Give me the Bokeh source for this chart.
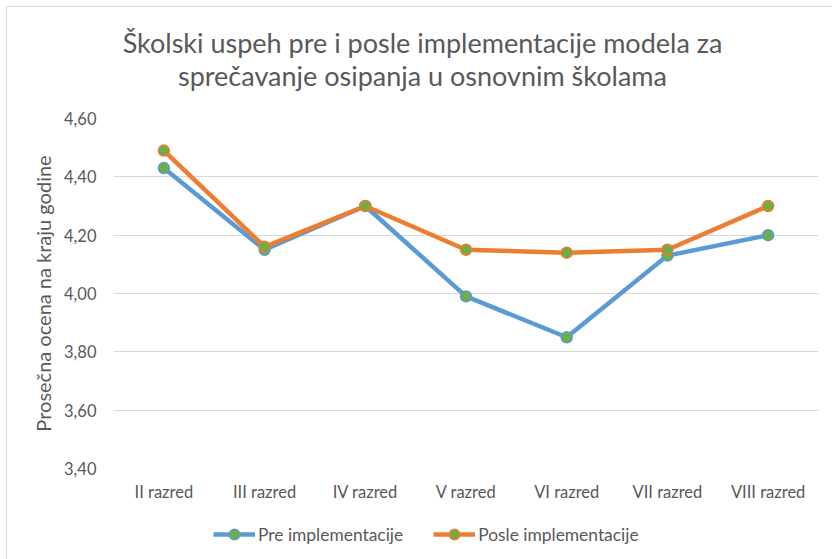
from bokeh.plotting import figure
from bokeh.layouts import column
from bokeh.models import (Div, Legend, LegendItem, FixedTicker, CustomJSTickFormatter,
                          Range1d, InlineStyleSheet)
from bokeh.embed import file_html
from bokeh.resources import INLINE

categories = ["II razred", "III razred", "IV razred", "V razred", "VI razred", "VII razred", "VIII razred"]
pre = [4.43, 4.15, 4.30, 3.99, 3.85, 4.13, 4.20]
posle = [4.49, 4.16, 4.30, 4.15, 4.14, 4.15, 4.30]
y_ticks = [3.40, 3.60, 3.80, 4.00, 4.20, 4.40, 4.60]
series_names = ["Pre implementacije", "Posle implementacije"]
title_lines = ["Školski uspeh pre i posle implementacije modela za",
               "sprečavanje osipanja u osnovnim školama"]

FONT = "Lato"
TXT = "#595959"
BLUE = "#5B9BD5"
ORANGE = "#ED7D31"
GREEN = "#70AD47"

# title block
title_html = ('<div style="width:845px;text-align:center;padding-top:26px;'
              'font-family:Lato;font-size:27px;line-height:33px;color:%s;white-space:nowrap;">'
              '%s<br>%s</div>') % (TXT, title_lines[0], title_lines[1])
title_div = Div(text=title_html, width=832, height=95, margin=0,
                styles={"background-color": "white"})

p = figure(x_range=categories, y_range=Range1d(3.40, 4.60), width=832, height=415,
           output_backend="svg", toolbar_location=None,
           min_border_left=113, min_border_right=14, min_border_top=23, min_border_bottom=42)
p.outline_line_color = None
p.background_fill_color = "white"
p.border_fill_color = "white"

p.line(categories, pre, line_color=BLUE, line_width=4.5)
p.scatter(categories, pre, size=11, fill_color=GREEN, line_color=BLUE, line_width=1.5)
p.line(categories, posle, line_color=ORANGE, line_width=4.5)
p.scatter(categories, posle, size=11, fill_color=GREEN, line_color=ORANGE, line_width=1.5)

p.yaxis.ticker = FixedTicker(ticks=y_ticks)
p.yaxis.formatter = CustomJSTickFormatter(code="return tick.toFixed(2).replace('.', ',');")
p.yaxis.axis_label = "Prosečna ocena na kraju godine"
p.yaxis.axis_label_text_font = FONT
p.yaxis.axis_label_text_font_size = "20px"
p.yaxis.axis_label_text_font_style = "normal"
p.yaxis.axis_label_text_color = TXT
p.yaxis.axis_label_standoff = 6

for ax in (p.xaxis, p.yaxis):
    ax.axis_line_color = None
    ax.major_tick_line_color = None
    ax.minor_tick_line_color = None
    ax.major_label_text_font = FONT
    ax.major_label_text_font_size = "16.5px"
    ax.major_label_text_color = TXT
p.yaxis.major_label_standoff = 11
p.xaxis.major_label_standoff = 7

p.xgrid.grid_line_color = None
p.ygrid.grid_line_color = "#D9D9D9"
p.ygrid.grid_line_width = 1

# legend strip below the chart (sample glyphs placed outside the visible range)
lg = figure(width=832, height=49, output_backend="svg", toolbar_location=None,
            min_border=0, x_range=Range1d(0, 1), y_range=Range1d(0, 1))
lg.axis.visible = False
lg.grid.visible = False
lg.outline_line_color = None
lg.background_fill_color = "white"
lg.border_fill_color = "white"
l1 = lg.line([5, 6], [5, 6], line_color=BLUE, line_width=4.5)
m1 = lg.scatter([5], [5], size=11, fill_color=GREEN, line_color=BLUE, line_width=1.5)
l2 = lg.line([5, 6], [5, 6], line_color=ORANGE, line_width=4.5)
m2 = lg.scatter([5], [5], size=11, fill_color=GREEN, line_color=ORANGE, line_width=1.5)
legend = Legend(items=[LegendItem(label=series_names[0], renderers=[l1, m1]),
                       LegendItem(label=series_names[1], renderers=[l2, m2])],
                orientation="horizontal", location=(100, 12),
                label_text_font=FONT, label_text_font_size="17.4px", label_text_color=TXT,
                glyph_width=42, glyph_height=26, label_standoff=3, spacing=30,
                border_line_color=None, background_fill_alpha=0, padding=5, margin=0)
lg.add_layout(legend, "center")

border_css = InlineStyleSheet(css=""":host::after { content: ''; position: absolute; left: 6px; top: 6px;
  right: 0; bottom: 0; border-top: 1px solid #D9D9D9; border-left: 1px solid #D9D9D9;
  pointer-events: none; }""")
layout = column(title_div, p, lg, spacing=0, stylesheets=[border_css])

open("out.html", "w", encoding="utf-8").write(file_html(layout, INLINE))
